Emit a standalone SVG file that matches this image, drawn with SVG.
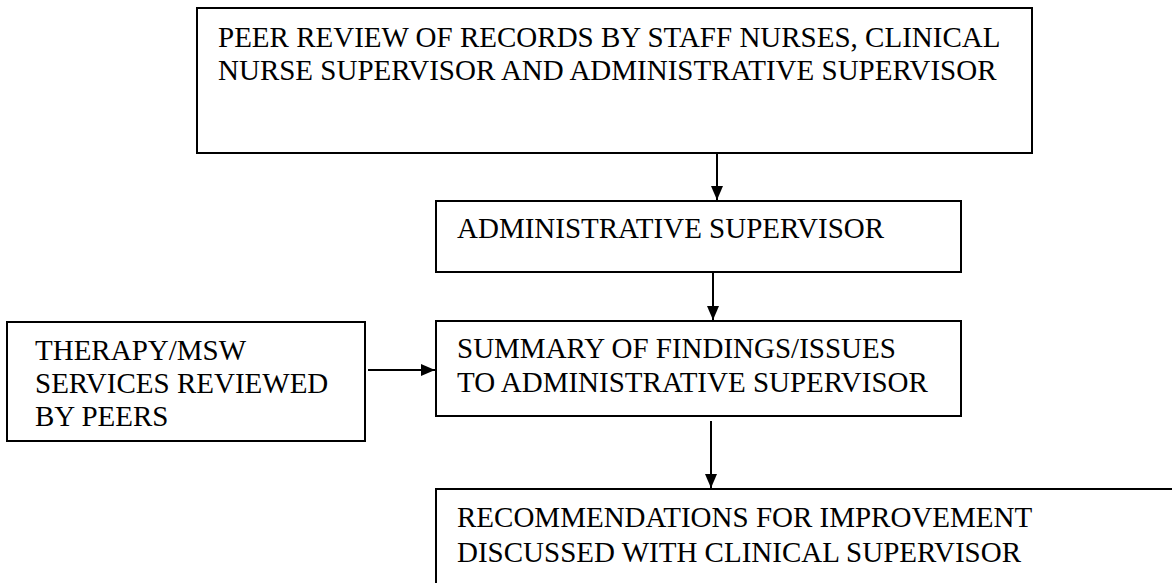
<svg xmlns="http://www.w3.org/2000/svg" width="1172" height="583" viewBox="0 0 1172 583">
<defs>
<style>
.box{fill:#fff;stroke:#000;stroke-width:2}
.t{font-family:"Liberation Serif","Times New Roman",serif;font-size:29px;fill:#000}
.c{stroke:#000;stroke-width:2;fill:none}
</style>
<marker id="ah" viewBox="0 0 14 12" refX="14" refY="6" markerWidth="14" markerHeight="12" markerUnits="userSpaceOnUse" orient="auto">
<path d="M0,0 L14,6 L0,12 z" fill="#000"/>
</marker>
</defs>
<rect width="1172" height="583" fill="#fff"/>
<g id="connectors">
<line class="c" x1="717" y1="154" x2="717" y2="200" marker-end="url(#ah)"/>
<line class="c" x1="713" y1="273" x2="713" y2="320" marker-end="url(#ah)"/>
<line class="c" x1="368" y1="370" x2="435" y2="370" marker-end="url(#ah)"/>
<line class="c" x1="711" y1="421" x2="711" y2="488" marker-end="url(#ah)"/>
</g>
<g id="peer-review">
<rect class="box" x="197" y="8" width="835" height="145"/>
<text class="t" x="218" y="47">PEER REVIEW OF RECORDS BY STAFF NURSES, CLINICAL</text>
<text class="t" x="218" y="80">NURSE SUPERVISOR AND ADMINISTRATIVE SUPERVISOR</text>
</g>
<g id="admin-supervisor">
<rect class="box" x="436" y="201" width="525" height="71"/>
<text class="t" x="457" y="238">ADMINISTRATIVE SUPERVISOR</text>
</g>
<g id="summary">
<rect class="box" x="436" y="321" width="525" height="95"/>
<text class="t" x="457" y="358">SUMMARY OF FINDINGS/ISSUES</text>
<text class="t" x="457" y="392">TO ADMINISTRATIVE SUPERVISOR</text>
</g>
<g id="therapy">
<rect class="box" x="7" y="322" width="358" height="119"/>
<text class="t" x="35" y="360">THERAPY/MSW</text>
<text class="t" x="35" y="393">SERVICES REVIEWED</text>
<text class="t" x="35" y="426">BY PEERS</text>
</g>
<g id="recommendations">
<rect class="box" x="436" y="489" width="760" height="120"/>
<text class="t" x="457" y="527">RECOMMENDATIONS FOR IMPROVEMENT</text>
<text class="t" x="457" y="562">DISCUSSED WITH CLINICAL SUPERVISOR</text>
</g>
</svg>
